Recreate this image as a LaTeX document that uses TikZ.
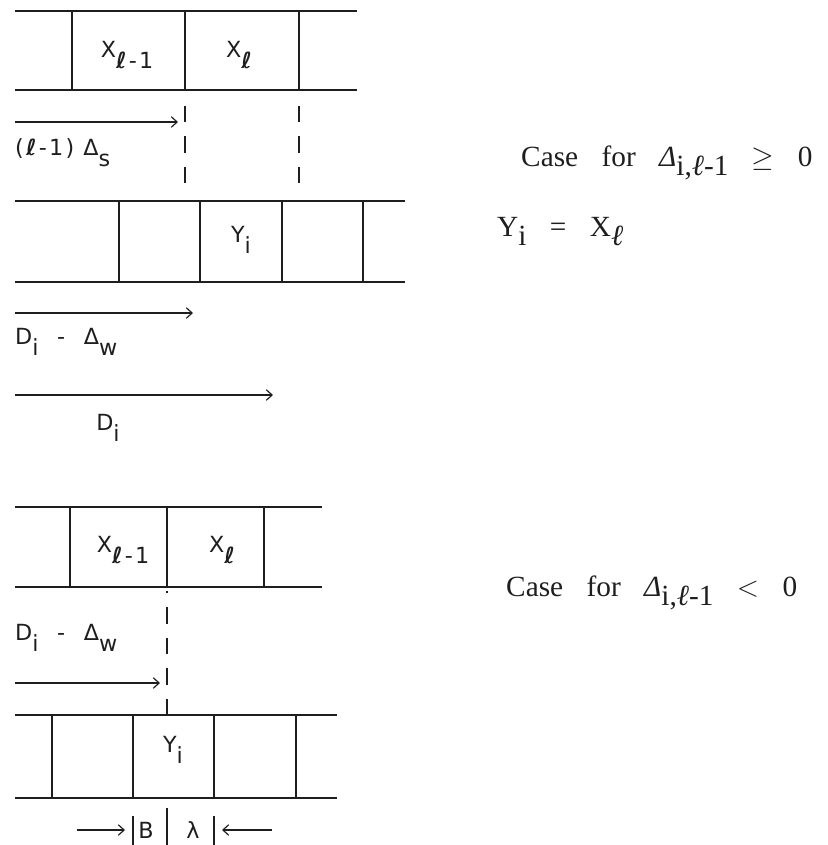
\documentclass[tikz,border=0pt]{standalone}
\usepackage{fontspec}
\setmainfont{Liberation Serif}
\newfontfamily\plotfont[LetterSpace=10]{DejaVu Sans}
\usetikzlibrary{positioning,arrows.meta}
\definecolor{ink}{HTML}{1E1E1E}
\newcommand{\lo}[1]{\raisebox{-0.9ex}{#1}}
\newcommand{\tsub}[1]{\raisebox{-0.7ex}{#1}}
\newcommand{\gap}{\hspace{0.8em}}
\tikzset{
  tape/.style  = {line width=1.2pt, draw=ink},
  lbl/.style   = {font=\plotfont\fontsize{19}{19}\selectfont, text=ink, inner sep=0pt},
  txt/.style   = {font=\fontsize{25}{28}\selectfont, text=ink, inner sep=0pt, anchor=base west},
  dim/.style   = {-{Straight Barb[length=5pt,width=9pt]}, line width=1pt, draw=ink},
  guide/.style = {line width=1.2pt, draw=ink, dash pattern=on 14pt off 12pt},
}

\begin{document}
\begin{tikzpicture}[x=0.03cm, y=-0.03cm]
  \useasboundingbox (0,0) rectangle (827,845);
  % ---------------- case 1: input tape ----------------
  \draw[tape] (15,11) -- (357,11) (15,90) -- (357,90);
  \foreach \x in {72,185,299} \draw[tape] (\x,11) -- (\x,90);
  \node[lbl] (xa) at (127,55) {X\lo{\textbf{ℓ}-1}};
  \node[lbl] (xb) at (240,55) {X\lo{\textbf{ℓ}}};

  % offset of X_l
  \coordinate (s1) at (15,122);
  \coordinate (e1) at (178,122);
  \draw[dim] (s1) -- (e1);
  \draw[guide] (185,106) -- (185,187);
  \draw[guide] (299,106) -- (299,187);
  \node[lbl, anchor=west] (ls) at (15,153) {(\textbf{ℓ}-1) Δ\lo{s}};

  % output tape
  \draw[tape] (15,201) -- (405,201) (15,282) -- (405,282);
  \foreach \x in {119,200,282,363} \draw[tape] (\x,201) -- (\x,282);
  \node[lbl] (yi) at (241,240) {Y\lo{i}};

  % distances
  \coordinate (s2) at (15,313);
  \coordinate (e2) at (193,313);
  \draw[dim] (s2) -- (e2);
  \node[lbl, anchor=west] (dw) at (15,342) {D\lo{i}\ \ -\ \ Δ\lo{w}};
  \coordinate (s3) at (15,395);
  \coordinate (e3) at (273,395);
  \draw[dim] (s3) -- (e3);
  \node[lbl] (di) at (108,428) {D\lo{i}};

  \node[txt] (c1) at (521,166) {Case\gap for\gap {\itshape Δ}\tsub{i,{\itshape ℓ}-1}\gap $\geq$\gap 0};
  \node[txt] (eq) at (497,236) {Y\tsub{i}\gap =\gap X\tsub{\itshape ℓ}};

  % ---------------- case 2: input tape ----------------
  \draw[tape] (15,507) -- (322,507) (15,587) -- (322,587);
  \foreach \x in {70,167,264} \draw[tape] (\x,507) -- (\x,587);
  \node[lbl] (xc) at (123,550) {X\lo{\textbf{ℓ}-1}};
  \node[lbl] (xd) at (223,550) {X\lo{\textbf{ℓ}}};

  \draw[guide, dash phase=12pt] (167,591) -- (167,715);
  \node[lbl, anchor=west] (dw2) at (15,638) {D\lo{i}\ \ -\ \ Δ\lo{w}};
  \coordinate (s4) at (15,683);
  \coordinate (e4) at (160,683);
  \draw[dim] (s4) -- (e4);

  % output tape
  \draw[tape] (15,715) -- (337,715) (15,798) -- (337,798);
  \foreach \x in {52,133,214,296} \draw[tape] (\x,715) -- (\x,798);
  \node[lbl] (yj) at (173,750) {Y\lo{i}};

  % overlap marks
  \draw[tape] (133,816) -- (133,845);
  \draw[tape] (167,808) -- (167,845);
  \draw[tape] (214,816) -- (214,845);
  \node[lbl] (b) at (146,830) {B};
  \node[lbl] (a) at (193,830) {λ};
  \coordinate (s5) at (77,830);
  \coordinate (e5) at (125,830);
  \draw[dim] (s5) -- (e5);
  \coordinate (s6) at (272,830);
  \coordinate (e6) at (222,830);
  \draw[dim] (s6) -- (e6);

  \node[txt] (c2) at (506,596) {Case\gap for\gap {\itshape Δ}\tsub{i,{\itshape ℓ}-1}\gap $<$\gap 0};
\end{tikzpicture}
\end{document}
